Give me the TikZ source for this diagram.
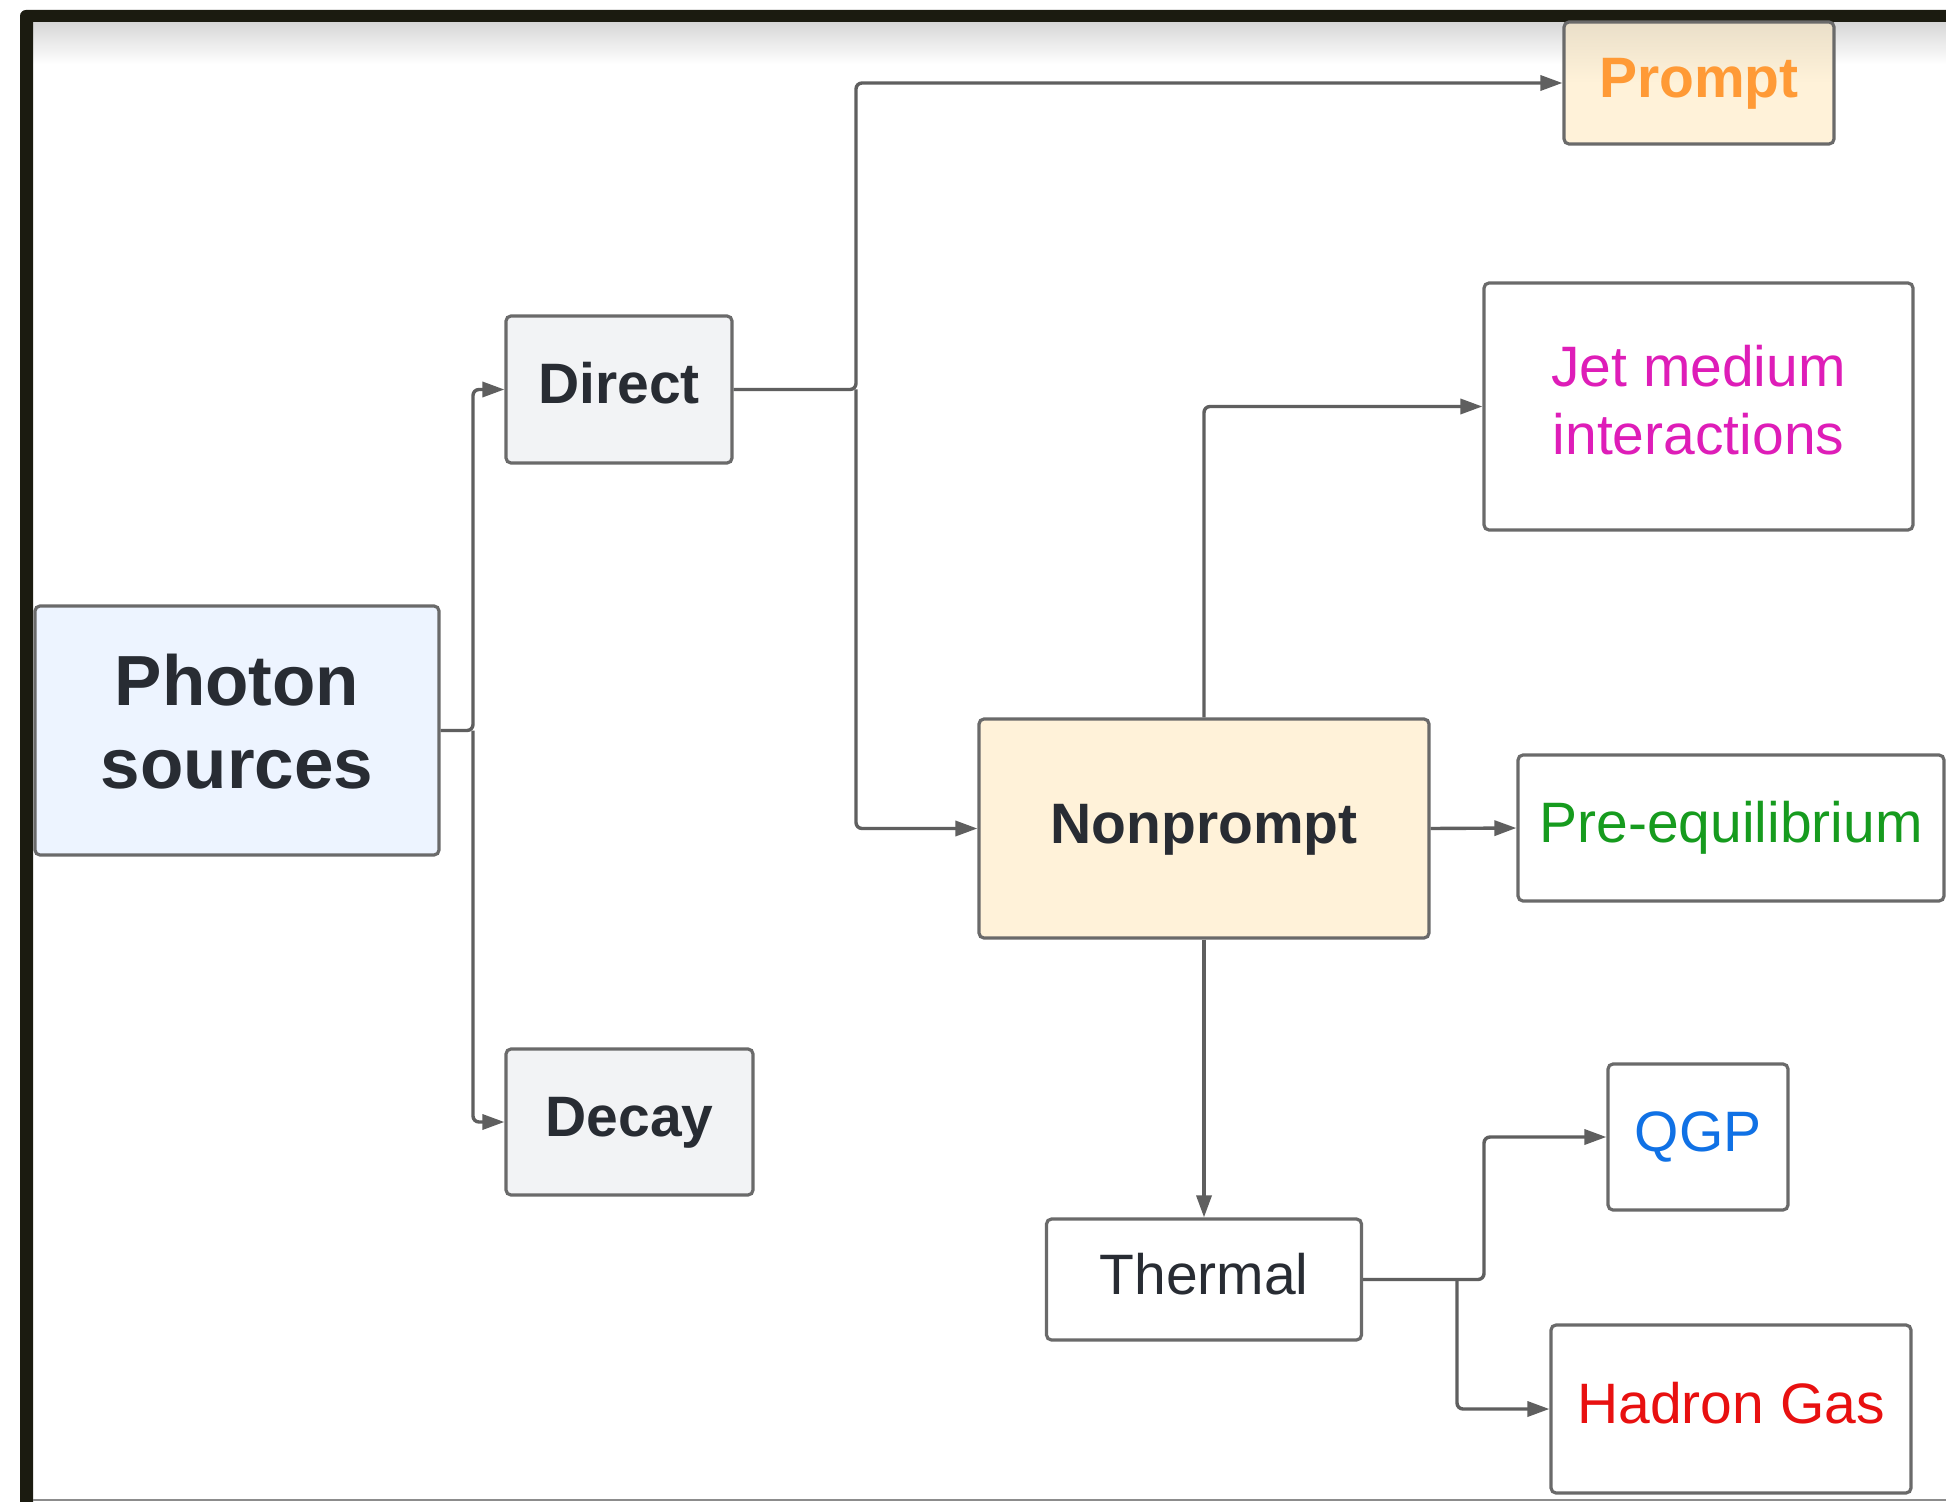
\documentclass[tikz,border=0pt]{standalone}
\usepackage{fontspec}
\setmainfont{Liberation Sans}
\usetikzlibrary{arrows.meta,calc}
\definecolor{framecol}{HTML}{1B1B10}
\definecolor{linecol}{HTML}{5F5F5F}
\definecolor{boxline}{HTML}{6A6A6A}
\definecolor{txt}{HTML}{282C33}
\definecolor{blfill}{HTML}{EDF4FF}
\definecolor{grfill}{HTML}{F2F3F5}
\definecolor{crfill}{HTML}{FFF2D9}
\definecolor{crtop}{HTML}{EADFC9}
\definecolor{orangetxt}{HTML}{FF9A36}
\definecolor{magtxt}{HTML}{DE1DB8}
\definecolor{greentxt}{HTML}{169B1E}
\definecolor{bluetxt}{HTML}{1071E5}
\definecolor{redtxt}{HTML}{E81010}
\newcommand{\twolines}[3]{\raisebox{#1}{\begin{tabular}{@{}c@{}}#2\\#3\end{tabular}}}
\tikzset{
  box/.style={draw=boxline, line width=1.6pt, rounded corners=2.5pt, inner sep=0pt, align=center, text=txt},
  one/.style={text height=21pt, text depth=6.5pt},
  reg/.style={font=\fontsize{28.5}{34}\selectfont},
  bld/.style={font=\fontsize{28.5}{34}\selectfont\bfseries},
  conn/.style={draw=linecol, line width=1.7pt, rounded corners=3pt},
  arr/.style={conn, -{Triangle[length=11pt,width=7.5pt]}}
}
\begin{document}
\begin{tikzpicture}[x=0.5pt,y=-0.5pt]
\useasboundingbox (0,0) rectangle (1946,1502);
\fill[white] (0,0) rectangle (1946,1502);
% top gradient
\shade[top color=black!16, bottom color=white] (33,22) rectangle (1946,64);
% frame
\fill[framecol] (20,1502) -- (20,16) arc[start angle=180, end angle=90, radius=3pt] -- (1950,10) -- (1950,22) -- (33,22) -- (33,1502) -- cycle;
\draw[black!45, line width=1pt] (33,1500) -- (1946,1500);

% nodes
\node[box, fill=blfill, minimum width=202pt, minimum height=124.5pt,
      font=\fontsize{35.5}{41.5}\selectfont\bfseries] (photon) at (237,730.5) {\twolines{3.5pt}{Photon}{sources}};
\node[box, bld, one, fill=grfill, minimum width=113pt, minimum height=73.5pt] (direct) at (619,389.5) {Direct};
\node[box, bld, one, fill=grfill, minimum width=123.5pt, minimum height=73pt] (decay) at (629.5,1122) {Decay};
\node[box, bld, one, top color=crtop, bottom color=crfill, middle color=crfill, shading angle=0,
      minimum width=135pt, minimum height=61pt, text=orangetxt] (prompt) at (1699,83) {Prompt};
\node[box, reg, fill=white, minimum width=214.5pt, minimum height=123.5pt, text=magtxt] (jet) at (1698.5,406.5) {\twolines{0.5pt}{Jet medium}{interactions}};
\node[box, bld, one, fill=crfill, minimum width=225pt, minimum height=109.5pt] (nonprompt) at (1204,828.5) {Nonprompt};
\node[box, reg, one, fill=white, minimum width=213pt, minimum height=73pt, text=greentxt] (preeq) at (1731,828) {Pre-equilibrium};
\node[box, reg, one, fill=white, minimum width=90pt, minimum height=73pt, text=bluetxt] (qgp) at (1698,1137) {QGP};
\node[box, reg, one, fill=white, minimum width=157.5pt, minimum height=60.5pt] (thermal) at (1204,1279.5) {Thermal};
\node[box, reg, one, fill=white, minimum width=180pt, minimum height=84pt, text=redtxt] (hadron) at (1731,1409) {Hadron Gas};

% junctions
\coordinate (j1) at (473,730.5);
\coordinate (j2) at (856,389.5);
\coordinate (j3) at (1484,1279.5);
\coordinate (j4) at (1457,1279.5);

% connectors
\draw[arr] (photon.east) -- (j1) |- (direct.west);
\draw[arr] (j1) |- (decay.west);
\draw[arr] (direct.east) -- (j2) |- (prompt.west);
\draw[arr] (j2) |- (nonprompt.west);
\draw[arr] (nonprompt.north) |- (jet.west);
\draw[arr] (nonprompt.east) -- (preeq.west);
\draw[arr] (nonprompt.south) -- (thermal.north);
\draw[arr] (thermal.east) -- (j3) |- (qgp.west);
\draw[arr] (j4) |- (hadron.west);
\end{tikzpicture}
\end{document}
